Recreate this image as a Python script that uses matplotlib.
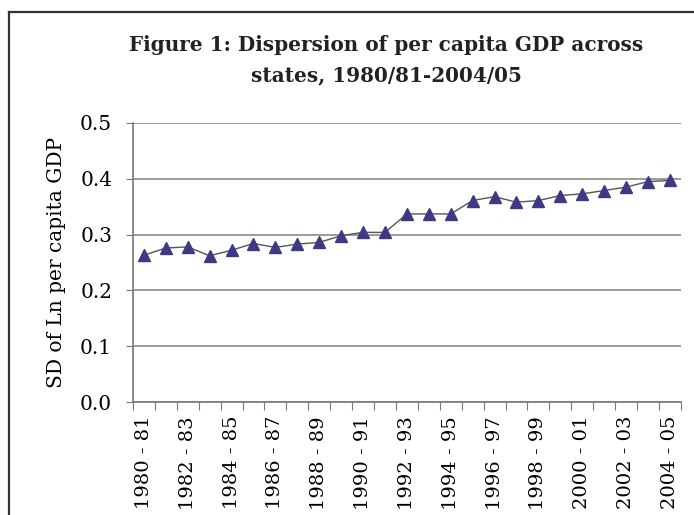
import matplotlib
matplotlib.use("Agg")
import matplotlib.pyplot as plt
from matplotlib.lines import Line2D
import numpy as np

# SD of Ln per capita GDP across states, 1980/81 - 2004/05
years = ["1980 - 81", "1981 - 82", "1982 - 83", "1983 - 84", "1984 - 85",
         "1985 - 86", "1986 - 87", "1987 - 88", "1988 - 89", "1989 - 90",
         "1990 - 91", "1991 - 92", "1992 - 93", "1993 - 94", "1994 - 95",
         "1995 - 96", "1996 - 97", "1997 - 98", "1998 - 99", "1999 - 00",
         "2000 - 01", "2001 - 02", "2002 - 03", "2003 - 04", "2004 - 05"]
sd_values = [0.263, 0.276, 0.278, 0.262, 0.272, 0.284, 0.277, 0.283, 0.286,
             0.298, 0.304, 0.304, 0.337, 0.337, 0.337, 0.361, 0.368, 0.358,
             0.361, 0.370, 0.373, 0.379, 0.385, 0.395, 0.397]
y_ticks = [0.0, 0.1, 0.2, 0.3, 0.4, 0.5]

plt.rcParams['font.family'] = ['DejaVu Serif']

fig = plt.figure(figsize=(6.94, 5.15), dpi=100)
ax = fig.add_axes([0.1916, 0.2194, 0.7894, 0.5418])

x = np.arange(len(years))
ax.plot(x, sd_values, color='#555555', linewidth=1, marker='^', markersize=9,
        markerfacecolor='#3d3985', markeredgecolor='#3d3985', zorder=3)

ax.set_xlim(-0.5, len(years) - 0.5)
ax.set_ylim(0, 0.5)
ax.set_yticks(y_ticks)
ax.set_yticklabels(['%.1f' % v for v in y_ticks], fontsize=14.5)
ax.yaxis.grid(True, color='#8a8a8a', linewidth=1.2)
ax.set_axisbelow(True)

# ticks between categories, labels on every second year
ax.set_xticks(np.arange(-0.5, len(years), 1))
ax.set_xticklabels([])
ax.set_xticks(x[::2], minor=True)
ax.set_xticklabels(years[::2], minor=True, rotation=90, fontsize=14)
ax.tick_params(axis='x', which='major', length=6, color='#777777', direction='out')
ax.tick_params(axis='x', which='minor', length=0, pad=10)
ax.tick_params(axis='y', length=5, color='#777777', pad=10)

for s in ['top', 'right']:
    ax.spines[s].set_visible(False)
for s in ['left', 'bottom']:
    ax.spines[s].set_color('#777777')
    ax.spines[s].set_linewidth(1.2)

ax.set_ylabel('SD of Ln per capita GDP', fontsize=14.5, labelpad=10)

fig.text(0.557, 0.912, 'Figure 1: Dispersion of per capita GDP across',
         ha='center', va='center', fontsize=14.4, fontweight='bold', color='#222222')
fig.text(0.557, 0.854, 'states, 1980/81-2004/05',
         ha='center', va='center', fontsize=14.4, fontweight='bold', color='#222222')

# page frame of the scan
fig.add_artist(Line2D([0.013, 1.0], [0.976, 0.976], color='#333333', linewidth=1.6))
fig.add_artist(Line2D([0.013, 0.013], [0.0, 0.976], color='#333333', linewidth=1.6))

fig.savefig('out.png', dpi=100)
